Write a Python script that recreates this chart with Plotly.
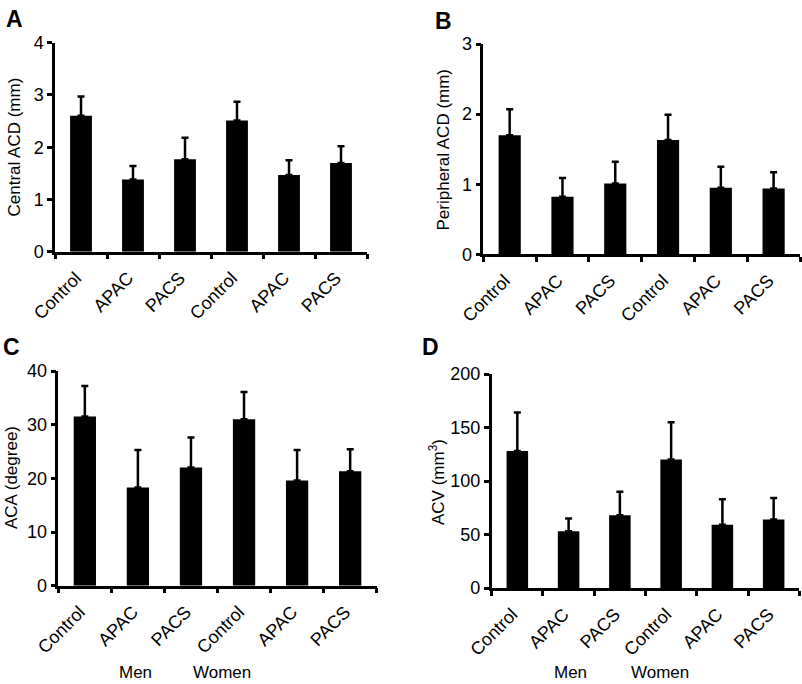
import plotly.graph_objects as go

# ---- data ----
categories = ["Control", "APAC", "PACS", "Control", "APAC", "PACS"]
group_labels = ["Men", "Women"]

central_acd = [2.60, 1.38, 1.77, 2.51, 1.47, 1.70]
central_acd_sd = [0.37, 0.26, 0.41, 0.36, 0.28, 0.32]

peripheral_acd = [1.70, 0.82, 1.01, 1.63, 0.95, 0.94]
peripheral_acd_sd = [0.37, 0.27, 0.31, 0.36, 0.30, 0.23]

aca = [31.5, 18.3, 22.0, 31.0, 19.6, 21.3]
aca_sd = [5.7, 7.0, 5.6, 5.1, 5.7, 4.1]

acv = [128, 53, 68, 120, 59, 64]
acv_sd = [36, 12, 22, 35, 24, 20]

panel_letters = ["A", "B", "C", "D"]
y_titles = ["Central ACD (mm)", "Peripheral ACD (mm)", "ACA (degree)", "ACV (mm<sup>3</sup>)"]
y_ranges = [[0, 4], [0, 3], [0, 40], [0, 200]]
y_dticks = [1, 1, 10, 50]

W, H = 802, 684
FONT = "Liberation Sans, Arial, Helvetica, sans-serif"

# panel geometry in pixels: (x_left, x_right, y_bottom, y_top)
geom = [
    (55, 367, 251.7, 42.7),
    (483.3, 800, 254.3, 44),
    (58.3, 376.7, 585.7, 371),
    (491.7, 799.3, 588, 374),
]

series = [(central_acd, central_acd_sd), (peripheral_acd, peripheral_acd_sd),
          (aca, aca_sd), (acv, acv_sd)]

fig = go.Figure()
xpos = list(range(len(categories)))
bounds = [i - 0.5 for i in range(len(categories) + 1)]

layout = dict(
    width=W, height=H, margin=dict(l=0, r=0, t=0, b=0, autoexpand=False),
    paper_bgcolor="white", plot_bgcolor="white", showlegend=False,
    font=dict(family=FONT, color="black", size=17),
)

annotations = []
for i, ((vals, sd), (xl, xr, yb, yt)) in enumerate(zip(series, geom)):
    n = "" if i == 0 else str(i + 1)
    fig.add_trace(go.Bar(
        x=xpos, y=vals, width=0.42,
        marker=dict(color="black", line=dict(width=0)),
        error_y=dict(type="data", symmetric=False, array=sd,
                     arrayminus=[0] * len(sd), color="black",
                     thickness=2.5, width=3.5),
        xaxis="x" + n, yaxis="y" + n,
    ))
    layout["xaxis" + n] = dict(
        domain=[xl / W, xr / W], anchor="y" + n, automargin=False,
        range=[-0.5, len(categories) - 0.5],
        tickmode="array", tickvals=xpos, ticktext=categories,
        ticks="", tickangle=-45, tickfont=dict(size=18),
        ticklabelshift=-5, ticklabelstandoff=6,
        showline=True, linecolor="black", linewidth=2.5,
        showgrid=False, zeroline=False, fixedrange=True,
        minor=dict(tickmode="array", tickvals=bounds, ticks="outside",
                   ticklen=5, tickwidth=2.5, tickcolor="black", showgrid=False),
    )
    layout["yaxis" + n] = dict(
        domain=[1 - yb / H, 1 - yt / H], anchor="x" + n, automargin=False,
        range=y_ranges[i], dtick=y_dticks[i], tick0=0,
        ticks="outside", ticklen=5, tickwidth=2.5, tickcolor="black",
        tickfont=dict(size=18),
        showline=True, linecolor="black", linewidth=2.5,
        showgrid=False, zeroline=False, fixedrange=True,
    )

# panel letters
letter_pos = [(4, 4), (433, 6), (1, 332), (420, 332)]
for letter, (lx, ly) in zip(panel_letters, letter_pos):
    annotations.append(dict(text="<b>%s</b>" % letter, x=lx / W, y=1 - ly / H,
                            xref="paper", yref="paper", xanchor="left", yanchor="top",
                            showarrow=False, font=dict(size=23, family=FONT)))

# y titles
ytitle_pos = [(13.5, 147), (443.5, 149), (11, 478), (437, 482)]
for t, (tx, ty) in zip(y_titles, ytitle_pos):
    annotations.append(dict(text=t, x=tx / W, y=1 - ty / H, xref="paper", yref="paper",
                            xanchor="center", yanchor="middle", textangle=-90,
                            showarrow=False, font=dict(size=17, family=FONT)))

# group labels under C and D
group_pos = [((135, 222), 672), ((570, 660), 672)]
for (mx, wx), gy in group_pos:
    for lbl, gx in zip(group_labels, (mx, wx)):
        annotations.append(dict(text=lbl, x=gx / W, y=1 - gy / H, xref="paper", yref="paper",
                                xanchor="center", yanchor="middle", showarrow=False,
                                font=dict(size=17, family=FONT)))

layout["annotations"] = annotations
fig.update_layout(**layout)
fig.write_html("out.html", config={"displayModeBar": False},
               post_script="document.body.style.margin='0';document.body.style.overflow='hidden';")
